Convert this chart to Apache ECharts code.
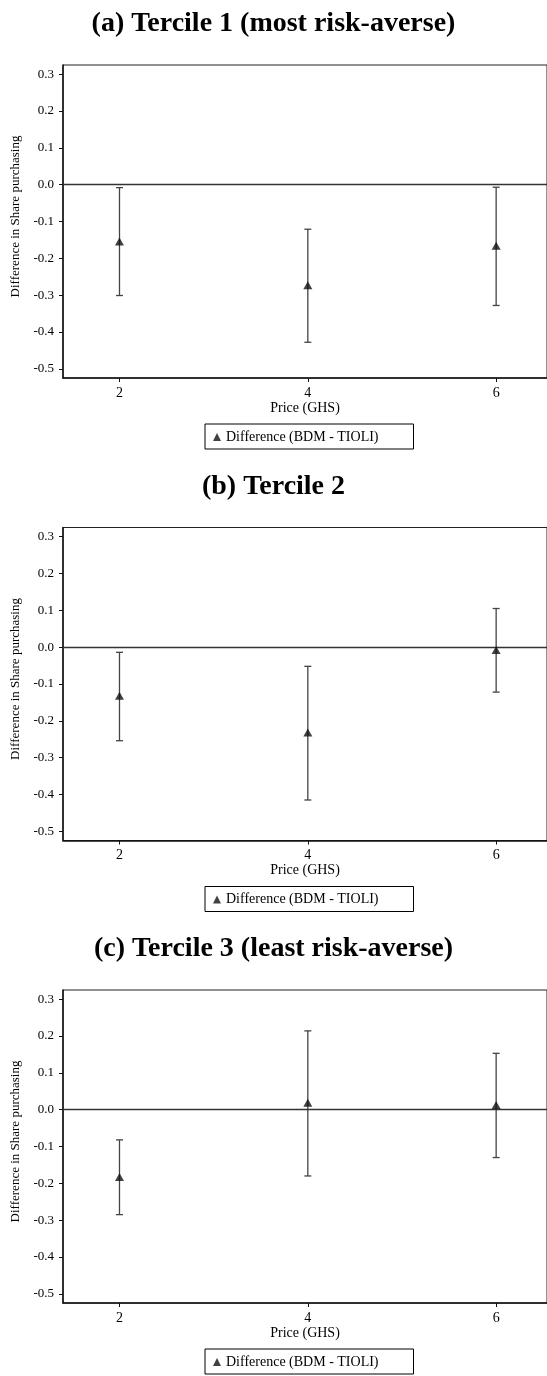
<!DOCTYPE html>
<html>
<head>
<meta charset="utf-8">
<script src="https://cdn.jsdelivr.net/npm/echarts@6/dist/echarts.min.js"></script>
<style>
  html, body { margin: 0; padding: 0; background: #fff; }
  #main { width: 547px; height: 1376px; }
</style>
</head>
<body>
<div id="main"></div>
<script>
// data
var prices = [2, 4, 6];
var xTicks = [2, 4, 6];
var yTicks = [-0.5, -0.4, -0.3, -0.2, -0.1, 0.0, 0.1, 0.2, 0.3];
var panelTitles = ['(a) Tercile 1 (most risk-averse)', '(b) Tercile 2', '(c) Tercile 3 (least risk-averse)'];
var seriesName = 'Difference (BDM - TIOLI)';

var t1Est = [-0.154, -0.273, -0.166];
var t1Lo  = [-0.301, -0.428, -0.328];
var t1Hi  = [-0.008, -0.121, -0.007];

var t2Est = [-0.132, -0.232, -0.008];
var t2Lo  = [-0.254, -0.415, -0.122];
var t2Hi  = [-0.014, -0.052, 0.105];

var t3Est = [-0.183, 0.019, 0.013];
var t3Lo  = [-0.285, -0.180, -0.130];
var t3Hi  = [-0.082, 0.214, 0.153];

var panels = [
  {est: t1Est, lo: t1Lo, hi: t1Hi},
  {est: t2Est, lo: t2Lo, hi: t2Hi},
  {est: t3Est, lo: t3Lo, hi: t3Hi}
];

var chart = echarts.init(document.getElementById('main'));
var serif = '"Liberation Serif", "Times New Roman", serif';
var step = 462.5;

var titles = [], grids = [], xAxes = [], yAxes = [], legends = [], series = [];

for (var i = 0; i < panels.length; i++) {
  var off = i * step;
  var p = panels[i];

  titles.push({
    text: panelTitles[i],
    left: 'center',
    top: 5 + off,
    textStyle: {fontFamily: serif, fontWeight: 'bold', fontSize: 28, color: '#000'}
  });

  grids.push({
    left: 63, right: -2, top: 65 + off, height: 313,
    show: true, borderColor: '#222', borderWidth: 1, backgroundColor: '#fff'
  });

  xAxes.push({
    type: 'value', gridIndex: i, min: 1.4, max: 6.54,
    name: 'Price (GHS)', nameLocation: 'middle', nameGap: 23,
    nameTextStyle: {fontFamily: serif, fontSize: 14, color: '#000'},
    axisLine: {onZero: false, lineStyle: {color: '#111', width: 1.5}},
    axisTick: {length: 4, customValues: xTicks, lineStyle: {color: '#111'}},
    axisLabel: {customValues: xTicks, fontFamily: serif, fontSize: 14, color: '#000', margin: 8},
    splitLine: {show: false}
  });

  yAxes.push({
    type: 'value', gridIndex: i, min: -0.525, max: 0.325,
    name: 'Difference in Share purchasing', nameLocation: 'middle', nameGap: 40,
    nameTextStyle: {fontFamily: serif, fontSize: 13, color: '#000', padding: [0, 0, 0, 10]},
    axisLine: {show: true, onZero: false, lineStyle: {color: '#111', width: 1.5}},
    axisTick: {show: true, length: 4, customValues: yTicks, lineStyle: {color: '#111'}},
    axisLabel: {
      customValues: yTicks, fontFamily: serif, fontSize: 13, color: '#000', margin: 9,
      formatter: function (v) { return v.toFixed(1); }
    },
    splitLine: {show: false}
  });

  legends.push({
    data: [seriesName],
    left: 205, top: 424 + off,
    orient: 'horizontal',
    borderColor: '#000', borderWidth: 1, borderRadius: 0,
    padding: [6, 35, 5, 8],
    itemWidth: 8, itemHeight: 8, itemGap: 6,
    icon: 'triangle',
    textStyle: {fontFamily: serif, fontSize: 14, color: '#000'}
  });

  // error bars (confidence intervals)
  var ciData = [];
  for (var k = 0; k < prices.length; k++) ciData.push([prices[k], p.lo[k], p.hi[k]]);
  series.push({
    type: 'custom',
    name: 'ci' + i,
    xAxisIndex: i, yAxisIndex: i,
    data: ciData,
    silent: true,
    z: 3,
    renderItem: function (params, api) {
      var lo = api.coord([api.value(0), api.value(1)]);
      var hi = api.coord([api.value(0), api.value(2)]);
      var w = 3.5;
      var st = {stroke: '#444', lineWidth: 1.3};
      return {
        type: 'group',
        children: [
          {type: 'line', shape: {x1: lo[0], y1: lo[1], x2: hi[0], y2: hi[1]}, style: st},
          {type: 'line', shape: {x1: lo[0] - w, y1: lo[1], x2: lo[0] + w, y2: lo[1]}, style: st},
          {type: 'line', shape: {x1: hi[0] - w, y1: hi[1], x2: hi[0] + w, y2: hi[1]}, style: st}
        ]
      };
    }
  });

  var ptData = [];
  for (var k2 = 0; k2 < prices.length; k2++) ptData.push([prices[k2], p.est[k2]]);
  series.push({
    type: 'scatter',
    name: seriesName,
    xAxisIndex: i, yAxisIndex: i,
    data: ptData,
    symbol: 'triangle',
    symbolSize: [9, 8],
    itemStyle: {color: '#111'},
    z: 5,
    markLine: {
      silent: true,
      symbol: 'none',
      label: {show: false},
      lineStyle: {color: '#333', width: 1.4, type: 'solid'},
      data: [{yAxis: 0}]
    }
  });
}

chart.setOption({
  animation: false,
  title: titles,
  grid: grids,
  xAxis: xAxes,
  yAxis: yAxes,
  legend: legends,
  series: series
});
</script>
</body>
</html>
